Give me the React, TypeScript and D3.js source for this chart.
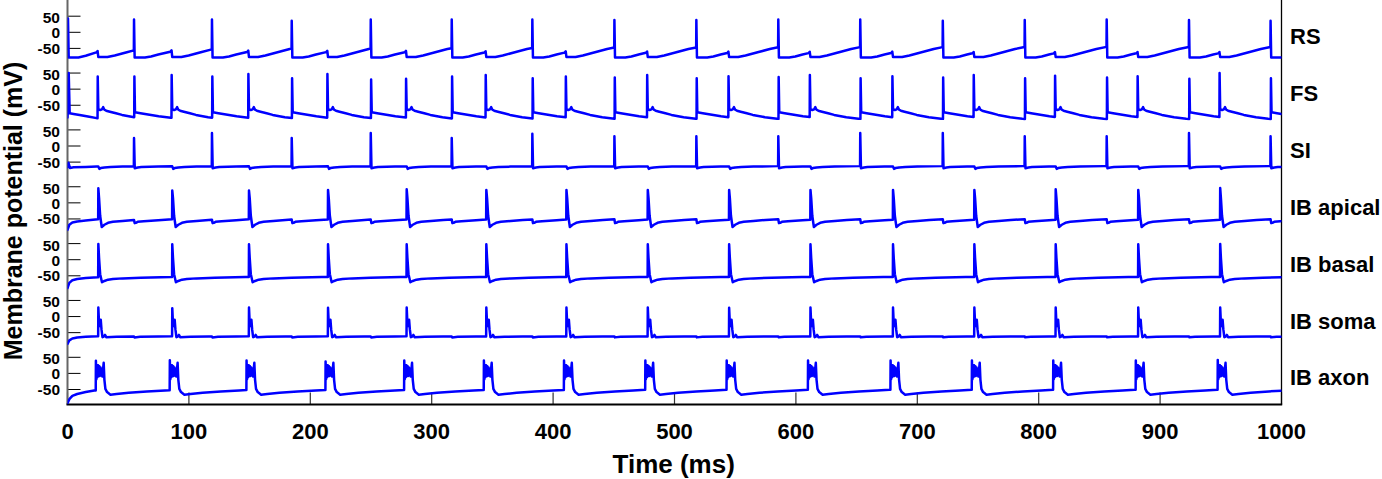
import React from "react";
import * as d3 from "d3";

// ---------- data ----------
const cellNames = ["RS", "FS", "SI", "IB apical", "IB basal", "IB soma", "IB axon"];
const xTicks = [0, 100, 200, 300, 400, 500, 600, 700, 800, 900, 1000];
const yTicks = [-50, 0, 50];

// spike times (ms)
const rsSpikeTimes = [54.8, 119, 184.7, 249.8, 316.5, 382.9, 450.5, 518, 585.5, 653, 721, 788.5, 856, 923.8, 991];
const ibBurstTimes = [25.4, 86.3, 149.5, 214.6, 279.4, 345, 411, 478, 545, 612, 680, 747, 814, 882, 949.5];

// spike peaks (mV)
const rsPeaks = [40, 40, 36, 40, 40, 40, 38, 38, 40, 40, 36, 38, 40, 38, 36];
const fsPeaksAtRS = [39, 39, 34, 30, 39, 34, 36, 34, 38, 34, 36, 34, 36, 32, 34];
const fsPeaksAtIB = [39, 44, 47, 47, 32, 44, 39, 44, 40, 44, 40, 44, 42, 40, 50];
const siPeaks = [25, 40, 25, 40, 25, 38, 30, 30, 30, 40, 40, 30, 30, 40, 30];
const apicalPeaks = [45, 38, 38, 40, 42, 40, 40, 40, 40, 40, 40, 40, 42, 40, 46];
const basalPeaks = [49, 48, 48, 48, 48, 48, 48, 48, 48, 48, 48, 48, 48, 48, 49];
const somaPeaks = [28, 26, 28, 27, 28, 28, 28, 28, 27, 28, 28, 28, 28, 28, 28];
const axonPeaks = [39, 41, 40, 37, 40, 40, 40, 40, 40, 40, 40, 40, 40, 40, 42];

// waveform templates: [dt (ms), value (mV), kind] kind 1 = relative to pre value, 2 = peak
type Pt = [number, number, number?];
// RS
const rsStart: Pt[] = [[0, -52], [0.4, 43], [1.0, -78], [9, -78], [15, -73], [24, -62]];
const rsSpikeShape: Pt[] = [[0, 0, 2], [0.5, -78]];
const rsSpikeRec: Pt[] = [[0.5, -78], [9, -78], [14, -75], [20, -69], [30, -60], [40, -51], [60, -42]];
const rsBumpShape: Pt[] = [[0, 0, 1], [0.9, 4, 1], [1.5, -77]];
const rsBumpRec: Pt[] = [[1.5, -77], [9, -77], [15, -72], [25, -62], [35, -52], [45, -44]];
// FS
const fsStart: Pt[] = [[0, -88], [1.0, 50], [1.8, -75], [5, -77], [10, -80], [18, -86], [24, -90]];
const fsRsShape: Pt[] = [[0, 0, 2], [0.5, -72]];
const fsRsRec: Pt[] = [[0.5, -72], [5, -75], [10, -78], [20, -84], [30, -89], [40, -92], [60, -95]];
const fsIbShape: Pt[] = [[0, 0, 2], [0.5, -62], [2, -65], [3.5, -63], [4.5, -56], [5.5, -64], [7, -67]];
const fsIbRec: Pt[] = [[7, -67], [10, -70], [15, -75], [20, -80], [30, -87], [40, -92], [60, -95]];
// SI
const siStart: Pt[] = [[0, -66], [0.8, -52], [2, -68], [5, -66], [15, -65], [24, -64]];
const siSpikeShape: Pt[] = [[0, 0, 2], [0.6, -69]];
const siSpikeRec: Pt[] = [[0.6, -69], [3, -67], [6, -65.5], [20, -64], [40, -62.5], [60, -61]];
const siDipShape: Pt[] = [[0, 0, 1], [0.8, -71], [2, -68.5]];
const siDipRec: Pt[] = [[2, -68.5], [5, -66.5], [10, -65.5], [20, -64], [40, -62.5]];
// IB apical
const apStart: Pt[] = [[0, -84], [1.5, -68], [4, -61], [8, -58], [15, -55], [25, -51]];
const apSpikeShape: Pt[] = [[0, 0, 2], [0.6, 15], [1.5, -40], [2.8, -75], [5, -68], [8, -62]];
const apSpikeRec: Pt[] = [[8, -62], [12, -59], [20, -56], [30, -53], [45, -50], [60, -48]];
const apNotchShape: Pt[] = [[0, 0, 1], [0.5, -63], [1.5, -62]];
const apNotchRec: Pt[] = [[1.5, -62], [3, -59], [8, -57], [20, -54], [35, -50], [50, -48]];
// IB basal
const baStart: Pt[] = [[0, -88], [1.5, -72], [4, -64], [8, -60], [15, -57], [25, -54.5]];
const baSpikeShape: Pt[] = [[0, 0, 2], [0.6, 5], [1.5, -45], [3, -70], [5, -66]];
const baSpikeRec: Pt[] = [[5, -66], [8, -62], [12, -60], [20, -58], [35, -56], [60, -54]];
// IB soma
const soStart: Pt[] = [[0, -85], [1.5, -74], [4, -68], [8, -65], [15, -63], [25, -61]];
const soSpikeShape: Pt[] = [[0, 0, 2], [0.7, -30], [1.4, -18], [2, -10], [2.6, -40], [3.4, -64], [4.5, -62], [5.5, -57], [6.5, -64]];
const soSpikeRec: Pt[] = [[6.5, -64], [15, -63], [30, -62], [60, -61]];
const soStepShape: Pt[] = [[0, 0, 1], [0.4, -3, 1]];
const soStepRec: Pt[] = [[0.4, -64], [5, -63], [20, -62], [40, -61]];
// IB axon
const axStart: Pt[] = [[0, -93], [1.5, -80], [4, -70], [8, -64], [15, -58], [22, -53]];
const axBurstShape: Pt[] = [[-2.0, 0, 2], [-1.6, -18], [-1.1, 26], [-0.7, -12], [-0.2, 25], [0.3, -8], [0.8, 22], [1.3, -8], [1.8, 18], [2.3, -6], [2.8, 14], [3.3, -10], [4.4, 33], [5.0, -20], [5.8, -48], [7.2, -58], [10, -66]];
const axBurstRec: Pt[] = [[10, -66], [15, -64], [25, -60], [40, -56], [55, -53], [65, -51]];

// ---------- trace assembly ----------
type Ev = { t: number; shape: Pt[]; rec: Pt[]; peak?: number };

function interp(rec: [number, number][], t: number): number {
  if (t <= rec[0][0]) return rec[0][1];
  for (let i = 1; i < rec.length; i++) {
    if (t <= rec[i][0]) {
      const a = rec[i - 1], b = rec[i];
      return a[1] + ((b[1] - a[1]) * (t - a[0])) / (b[0] - a[0]);
    }
  }
  return rec[rec.length - 1][1];
}

function buildTrace(start: Pt[], events: Ev[], tEnd = 1000): [number, number][] {
  const out: [number, number][] = [];
  let rec: [number, number][] = start.map((p) => [p[0], p[1]]);
  const evs = [...events].sort((a, b) => a.t - b.t);
  const lastT = () => (out.length ? out[out.length - 1][0] : -Infinity);
  for (const ev of evs) {
    const tCut = ev.t + ev.shape[0][0] - 0.15;
    for (const p of rec) if (p[0] < tCut && p[0] > lastT()) out.push(p);
    const vCut = interp(rec, tCut);
    out.push([tCut, vCut]);
    for (const [dt, v, kind] of ev.shape) {
      const val = kind === 1 ? vCut + v : kind === 2 ? (ev.peak ?? v) : v;
      out.push([ev.t + dt, val]);
    }
    rec = ev.rec.map((p) => [ev.t + p[0], p[1]] as [number, number]);
  }
  for (const p of rec) if (p[0] <= tEnd && p[0] > lastT()) out.push(p);
  if (lastT() < tEnd) out.push([tEnd, interp(rec, tEnd)]);
  return out;
}

const traces: [number, number][][] = [
  buildTrace(rsStart, [
    ...rsSpikeTimes.map((t, i) => ({ t, shape: rsSpikeShape, rec: rsSpikeRec, peak: rsPeaks[i] })),
    ...ibBurstTimes.map((t) => ({ t: t - 1.5, shape: rsBumpShape, rec: rsBumpRec })),
  ]),
  buildTrace(fsStart, [
    ...rsSpikeTimes.map((t, i) => ({ t: t + 0.3, shape: fsRsShape, rec: fsRsRec, peak: fsPeaksAtRS[i] })),
    ...ibBurstTimes.map((t, i) => ({ t: t - 0.5, shape: fsIbShape, rec: fsIbRec, peak: fsPeaksAtIB[i] })),
  ]),
  buildTrace(siStart, [
    ...rsSpikeTimes.map((t, i) => ({ t, shape: siSpikeShape, rec: siSpikeRec, peak: siPeaks[i] })),
    ...ibBurstTimes.map((t) => ({ t, shape: siDipShape, rec: siDipRec })),
  ]),
  buildTrace(apStart, [
    ...ibBurstTimes.map((t, i) => ({ t, shape: apSpikeShape, rec: apSpikeRec, peak: apicalPeaks[i] })),
    ...rsSpikeTimes.map((t) => ({ t, shape: apNotchShape, rec: apNotchRec })),
  ]),
  buildTrace(baStart, ibBurstTimes.map((t, i) => ({ t, shape: baSpikeShape, rec: baSpikeRec, peak: basalPeaks[i] }))),
  buildTrace(soStart, [
    ...ibBurstTimes.map((t, i) => ({ t, shape: soSpikeShape, rec: soSpikeRec, peak: somaPeaks[i] })),
    ...rsSpikeTimes.map((t) => ({ t, shape: soStepShape, rec: soStepRec })),
  ]),
  buildTrace(axStart, ibBurstTimes.map((t, i) => ({ t, shape: axBurstShape, rec: axBurstRec, peak: axonPeaks[i] }))),
];

// ---------- layout ----------
const W = 1382;
const H = 479;
const X0 = 67.5;
const X1 = 1281.5;
const AXIS_Y = 404.5;
const ZERO0 = 32.3;
const PANEL_STEP = 56.85;
const PX_PER_50 = 16.1;
const FONT = "'Liberation Sans', Arial, Helvetica, sans-serif";
const BLUE = "#0000ff";

const x = d3.scaleLinear().domain([0, 1000]).range([X0, X1]);
const panelY = (i: number) => {
  const z = ZERO0 + PANEL_STEP * i;
  return d3.scaleLinear().domain([-50, 50]).range([z + PX_PER_50, z - PX_PER_50]);
};
const labelShift: Record<number, number> = { 50: 1.5, 0: 0.5, [-50]: 0 };

export default function App() {
  return (
    <svg
      width={W}
      height={H}
      style={{ position: "absolute", left: 0, top: 0, background: "#fff" }}
      fontFamily={FONT}
    >
      <defs>
        <clipPath id="plotclip">
          <rect x={X0} y={0} width={X1 - X0} height={AXIS_Y} />
        </clipPath>
      </defs>

      {/* y ticks and labels */}
      {cellNames.map((name, i) => {
        const y = panelY(i);
        return (
          <g key={name}>
            {yTicks.map((t) => (
              <g key={t}>
                <line x1={X0} x2={X0 + 13} y1={y(t)} y2={y(t)} stroke="#000" strokeWidth={1} />
                <text
                  x={60}
                  y={y(t) + labelShift[t]}
                  dy="0.35em"
                  textAnchor="end"
                  fontSize={15.5}
                  fontWeight="bold"
                  fill="#000"
                >
                  {t}
                </text>
              </g>
            ))}
            <text x={1290} y={y(0) + 12} fontSize={22} fontWeight="bold" fill="#000">
              {name}
            </text>
          </g>
        );
      })}

      {/* x ticks */}
      {xTicks.map((t) => (
        <g key={t}>
          <line x1={x(t)} x2={x(t)} y1={AXIS_Y} y2={AXIS_Y - 12} stroke="#333" strokeWidth={1.2} />
          <text x={x(t)} y={438.5} textAnchor="middle" fontSize={22} fontWeight="bold" fill="#000">
            {t}
          </text>
        </g>
      ))}

      {/* axes */}
      <line x1={X0} x2={X0} y1={0} y2={AXIS_Y} stroke="#666" strokeWidth={2} />
      <line x1={X1} x2={X1} y1={0} y2={AXIS_Y} stroke="#000" strokeWidth={1.3} />
      <line x1={X0 - 1} x2={X1 + 0.7} y1={AXIS_Y} y2={AXIS_Y} stroke="#000" strokeWidth={2} />

      {/* traces */}
      <g clipPath="url(#plotclip)">
        {traces.map((tr, i) => {
          const y = panelY(i);
          const line = d3
            .line<[number, number]>()
            .x((d) => x(d[0]))
            .y((d) => y(d[1]));
          return (
            <path
              key={i}
              d={line(tr) || ""}
              fill="none"
              stroke={BLUE}
              strokeWidth={2.5}
              strokeLinejoin="round"
              strokeLinecap="round"
            />
          );
        })}
      </g>

      {/* axis titles */}
      <text x={673.7} y={473} textAnchor="middle" fontSize={26} fontWeight="bold" fill="#000">
        Time (ms)
      </text>
      <text
        transform="translate(21.5,211) rotate(-90)"
        textAnchor="middle"
        fontSize={25}
        fontWeight="bold"
        fill="#000"
      >
        Membrane potential (mV)
      </text>
    </svg>
  );
}
